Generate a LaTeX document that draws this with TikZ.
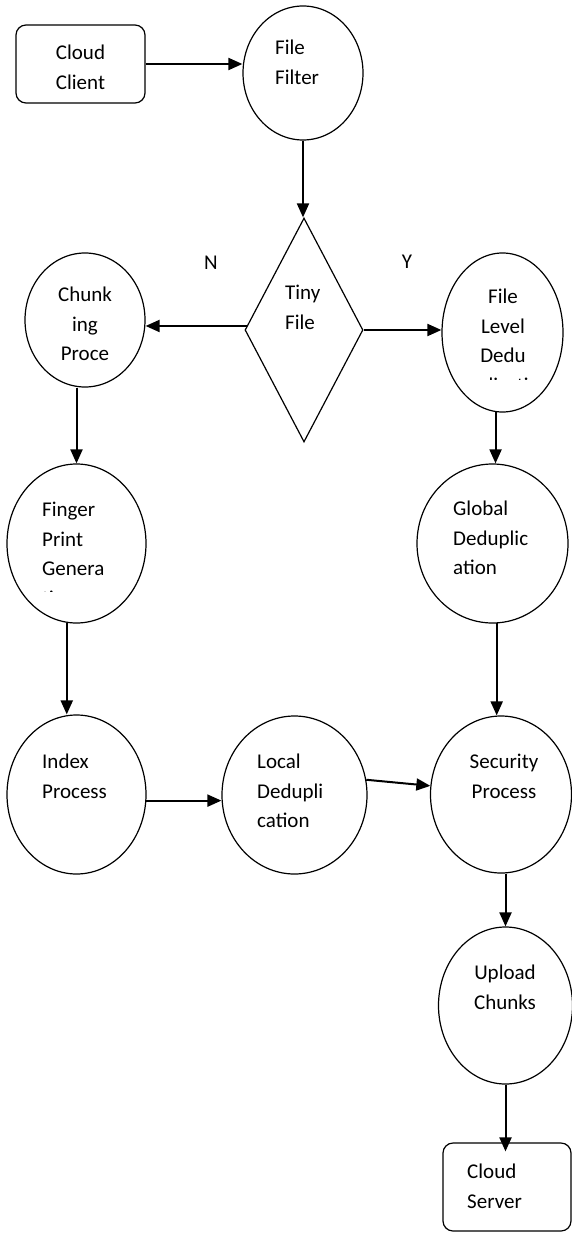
\documentclass[tikz,border=0pt]{standalone}
\usepackage{fontspec}
\setmainfont{Carlito}
\usetikzlibrary{arrows.meta,shapes.geometric}
\tikzset{
  proc/.style={draw, ellipse, line width=1.2pt, inner sep=0pt},
  term/.style={draw, rounded corners=10pt, line width=1.2pt, inner sep=0pt},
  decide/.style={draw, diamond, line width=1.2pt, inner sep=0pt},
  flow/.style={-{Triangle[length=14pt,width=12pt]}, line width=2pt},
  lbl/.style={inner sep=0pt, align=left, font=\fontsize{21}{29.5}\selectfont},
}

\begin{document}
\begin{tikzpicture}[x=1pt,y=-1pt]
  \useasboundingbox (0,0) rectangle (572,1241);
  % shapes
  \node[term, minimum width=129pt, minimum height=78pt] (client) at (80.5,64) {};
  \node[proc, minimum width=120pt, minimum height=134pt] (filter) at (303,73) {};
  \node[decide, minimum width=118pt, minimum height=224pt] (tiny) at (304,330) {};
  \node[proc, minimum width=120pt, minimum height=134pt] (chunk) at (85,320) {};
  \node[proc, minimum width=121pt, minimum height=159pt] (fld) at (502.5,332.5) {};
  \node[proc, minimum width=139pt, minimum height=159pt] (finger) at (76.5,543.5) {};
  \node[proc, minimum width=151pt, minimum height=159pt] (global) at (492.5,543.5) {};
  \node[proc, minimum width=139pt, minimum height=159pt] (index) at (76.5,794.5) {};
  \node[proc, minimum width=145pt, minimum height=158pt] (local) at (294.5,795) {};
  \node[proc, minimum width=141pt, minimum height=157pt] (secur) at (501,794.5) {};
  \node[proc, minimum width=134pt, minimum height=157pt] (upload) at (505.5,1005.5) {};
  \node[term, minimum width=128pt, minimum height=88pt] (server) at (507,1187) {};
  % texts
  \node[lbl, anchor=north, align=center] (tclient) at (80.5,45) {Cloud\\Client};
  \node[lbl, anchor=north west] (tfilter) at (275,40) {File\\Filter};
  \node[lbl, anchor=north west] (ttiny) at (285,285) {Tiny\\File};
  \node[lbl] (tno) at (211,263) {N};
  \node[lbl] (tyes) at (407,262) {Y};
  \node[lbl, anchor=north, align=center] (tchunk) at (85,287) {Chunk\\ing\\Proce};
  \node[lbl, anchor=north, align=center] (tfld) at (503,289) {File\\Level\\Dedu};
  \begin{scope}
    \clip (440,370) rectangle (565,379.5);
    \node[lbl, anchor=base] (tfldcut) at (503,392.5) {plicati};
  \end{scope}
  \node[lbl, anchor=north west] (tfinger) at (42,502) {Finger\\Print\\Genera};
  \begin{scope}
    \clip (30,580) rectangle (130,591.5);
    \node[lbl, anchor=base west] (tfingercut) at (42,605.5) {tion};
  \end{scope}
  \node[lbl, anchor=north west] (tglobal) at (453,501) {Global\\Deduplic\\ation};
  \node[lbl, anchor=north west] (tindex) at (42,754) {Index\\Process};
  \node[lbl, anchor=north west] (tlocal) at (257,754) {Local\\Dedupli\\cation};
  \node[lbl, anchor=north, align=center] (tsecur) at (504,754) {Security\\Process};
  \node[lbl, anchor=north, align=center] (tupload) at (505,965) {Upload\\Chunks};
  \node[lbl, anchor=north west] (tserver) at (467,1164) {Cloud\\Server};
  % arrows
  \draw[flow] (client.east) -- (client.east -| filter.west);
  \draw[flow] (filter.south) -- (filter.south |- tiny.north);
  \draw[flow] (tiny.176) -- (tiny.176 -| chunk.east);
  \draw[flow] (tiny.east) -- (tiny.east -| fld.west);
  \draw[flow] (finger.north |- chunk.south) -- (finger.north);
  \draw[flow] (finger.263) -- (finger.263 |- index.north);
  \draw[flow] (index.-5) -- (index.-5 -| local.west);
  \draw[flow] (local.12) -- (secur.173);
  \draw[flow] (fld.265) -- (fld.265 |- global.north);
  \draw[flow] (global.273) -- (global.273 |- secur.north);
  \draw[flow] (upload.north |- secur.south) -- (upload.north);
  \draw[flow, shorten >=-9pt] (upload.south) -- (upload.south |- server.north);
\end{tikzpicture}
\end{document}
